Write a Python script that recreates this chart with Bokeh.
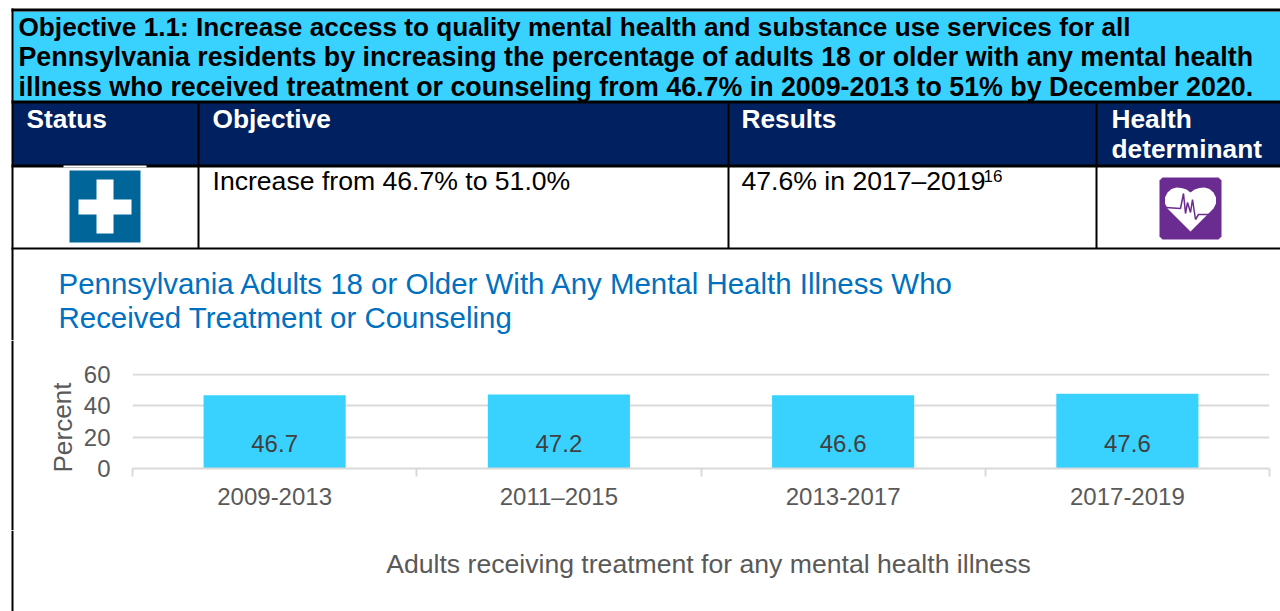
from bokeh.plotting import figure
from bokeh.core.properties import value
from bokeh.layouts import column, row
from bokeh.models import Range1d, LinearAxis, FixedTicker
from bokeh.embed import file_html
from bokeh.resources import INLINE

periods = ["2009-2013", "2011\u20132015", "2013-2017", "2017-2019"]
percent = [46.7, 47.2, 46.6, 47.6]
y_ticks = [0, 20, 40, 60]
objective_lines = [
    "Objective 1.1: Increase access to quality mental health and substance use services for all",
    "Pennsylvania residents by increasing the percentage of adults 18 or older with any mental health",
    "illness who received treatment or counseling from 46.7% in 2009-2013 to 51% by December 2020.",
]
objective_sizes = [26.2, 26.8, 26.8]
chart_title = ["Pennsylvania Adults 18 or Older With Any Mental Health Illness Who",
               "Received Treatment or Counseling"]
legend_text = "Adults receiving treatment for any mental health illness"

FONT = "Liberation Sans"
W, H = 1280, 611
CYAN, NAVY, BAR = "#39D2FF", "#002060", "#39D2FF"
GRAY, GRID = "#595959", "#D9D9D9"
BLUE, PURPLE = "#0070C0", "#6B2C91"
TOP_END, MID_END, STRIP_W = 340, 530, 80   # page pixels where the panels meet
FT, FB, FR = 373, 468, 1269                # chart frame edges in page pixels
Y_TOP = 60.5


def panel(x0, x1, y0, y1):
    """A blank figure whose data units are page pixels."""
    f = figure(width=x1 - x0, height=y1 - y0, output_backend="svg", toolbar_location=None,
               x_range=Range1d(x0, x1), y_range=Range1d(y1, y0),
               x_axis_location=None, y_axis_location=None, min_border=0, frame_align=False)
    f.grid.visible = False
    f.outline_line_color = None
    f.border_fill_color = "white"
    return f


def box(f, l, t, r, b, color):
    f.quad(left=[l], right=[r], top=[t], bottom=[b], fill_color=color, line_color=None)


def label(f, x, y, text, size, color, bold=False, align="left", angle=0):
    f.text(x=[x], y=[y], text=[text], text_font=value(FONT), text_font_size=f"{size}px",
           text_color=color, text_font_style="bold" if bold else "normal",
           text_align=align, text_baseline="middle", angle=angle)


# ---- top panel: objective table and chart title
top = panel(0, W, 0, TOP_END)
box(top, 12, 11, W, 101, CYAN)
box(top, 12, 102, W, 165, NAVY)
box(top, 11, 8, W, 11, "black")
box(top, 11, 100, W, 103, "black")
box(top, 11, 164, W, 167, "black")
box(top, 11, 247, W, 249, "black")
box(top, 11, 8, 13, TOP_END, "black")
for vx in (197, 727, 1095):
    box(top, vx, 102, vx + 2, 248, "black")

for i, (line, size) in enumerate(zip(objective_lines, objective_sizes)):
    label(top, 18, 26 + i * 30, line, size, "black", bold=True)
for x, t in [(26, "Status"), (212, "Objective"), (741, "Results"), (1111, "Health")]:
    label(top, x, 118, t, 26.3, "white", bold=True)
label(top, 1111, 148, "determinant", 26.3, "white", bold=True)
label(top, 212, 180, "Increase from 46.7% to 51.0%", 26.6, "black")
label(top, 741, 180, "47.6% in 2017\u20132019", 26.6, "black")
label(top, 983, 175, "16", 17, "black")

# status icon: plus
box(top, 63, 165, 146, 167, "white")
box(top, 69, 170, 140, 242, "#006699")
box(top, 78, 199, 131, 214, "white")
box(top, 96, 179, 113, 233, "white")

# determinant icon: heart
top.patch(x=[1162, 1218, 1221, 1221, 1218, 1162, 1159, 1159],
          y=[177, 177, 180, 236, 239, 239, 236, 180], fill_color=PURPLE, line_color=None)
top.patch(x=[1190, 1186, 1181, 1176, 1171, 1167, 1164.5, 1164.5, 1167, 1172, 1178, 1184, 1190,
             1196, 1202, 1208, 1213, 1215.5, 1215.5, 1213, 1209, 1204, 1199, 1194],
          y=[192, 189, 187.5, 187, 188.5, 192, 197, 203, 208, 213, 219, 225, 231,
             225, 219, 213, 208, 203, 197, 192, 188.5, 187, 187.5, 189],
          fill_color="white", line_color=None)
top.line(x=[1165, 1180, 1183, 1185, 1187, 1190, 1192, 1195, 1198, 1201, 1209],
         y=[207, 208, 193, 213, 202, 212, 199, 219, 214, 214, 214],
         line_color=PURPLE, line_width=1.5)

label(top, 58, 283, chart_title[0], 29.45, BLUE)
label(top, 58, 317, chart_title[1], 29.45, BLUE)

# ---- left strip: table rule and the value-axis title
strip = panel(0, STRIP_W, TOP_END, MID_END)
box(strip, 11, TOP_END, 13, MID_END, "black")
label(strip, 62, 427, "Percent", 26.2, GRAY, align="center", angle=1.5708)

# ---- chart
n = len(periods)
centers = [i + 0.5 for i in range(n)]
p = figure(width=W - STRIP_W, height=MID_END - TOP_END, output_backend="svg", toolbar_location=None,
           x_range=Range1d(0, n), y_range=Range1d(0, Y_TOP), x_axis_location=None,
           min_border_left=132 - STRIP_W, min_border_right=W - FR,
           min_border_top=FT - TOP_END, min_border_bottom=MID_END - FB, frame_align=False)
p.outline_line_color = None
p.border_fill_color = "white"
p.xgrid.visible = False
p.ygrid.grid_line_color = GRID
p.ygrid.grid_line_width = 2
p.ygrid.ticker = FixedTicker(ticks=y_ticks)

ya = p.yaxis[0]
ya.ticker = FixedTicker(ticks=y_ticks)
ya.axis_line_color = None
ya.major_tick_line_color = None
ya.major_tick_in = 0
ya.major_tick_out = 0
ya.minor_tick_line_color = None
ya.minor_tick_out = 0
ya.major_label_text_font = FONT
ya.major_label_text_font_size = "24px"
ya.major_label_text_color = GRAY
ya.major_label_standoff = 22

tick_axis = LinearAxis(ticker=FixedTicker(ticks=list(range(n + 1))),
                       axis_line_color=GRID, axis_line_width=2,
                       major_tick_line_color=GRID, major_tick_line_width=2,
                       major_tick_in=0, major_tick_out=8,
                       minor_tick_line_color=None, major_label_text_font_size="0px",
                       major_label_text_color=None, major_label_standoff=0)
p.add_layout(tick_axis, "below")
label_axis = LinearAxis(ticker=FixedTicker(ticks=centers),
                        major_label_overrides={c: t for c, t in zip(centers, periods)},
                        axis_line_color=None, major_tick_line_color=None,
                        minor_tick_line_color=None, major_label_text_font=FONT,
                        major_label_text_font_size="24px", major_label_text_color=GRAY,
                        major_label_standoff=0)
p.add_layout(label_axis, "below")

p.vbar(x=centers, top=percent, width=0.5, fill_color=BAR, line_color=None)
p.text(x=centers, y=[0] * n, text=[f"{v:.1f}" for v in percent], y_offset=-25,
       text_align="center", text_baseline="middle", text_color="#404040",
       text_font_size="24px", text_font=value(FONT))

# ---- bottom panel: legend text and table rule
bottom = panel(0, W, MID_END, H)
box(bottom, 11, MID_END, 13, H, "black")
label(bottom, 708, 563, legend_text, 26.6, GRAY, align="center")

page = column(top, row(strip, p, spacing=0), bottom, spacing=0)
open("out.html", "w").write(file_html(page, INLINE))
